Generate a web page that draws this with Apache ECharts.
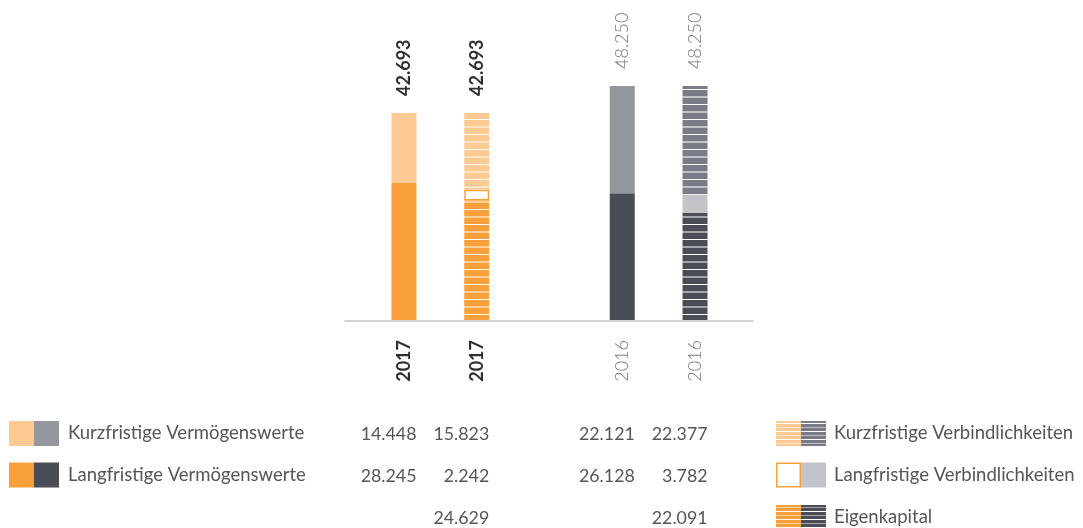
<!DOCTYPE html>
<html><head><meta charset="utf-8">
<script src="https://cdn.jsdelivr.net/npm/echarts@6/dist/echarts.min.js"></script>
<style>html,body{margin:0;padding:0;background:#fff}#c{width:1083px;height:528px}</style>
</head><body><div id="c"></div>
<script>
// ---- data ----
const years = ['2017', '2016'];
const categories = ['2017', '2017', '', '2016', '2016'];
const kurzfristigeVermoegenswerte = [14448, 22121];
const langfristigeVermoegenswerte = [28245, 26128];
const kurzfristigeVerbindlichkeiten = [15823, 22377];
const langfristigeVerbindlichkeiten = [2242, 3782];
const eigenkapital = [24629, 22091];
const bilanzsumme = [42693, 48250];
const legendLeft = ['Kurzfristige Vermögenswerte', 'Langfristige Vermögenswerte'];
const legendRight = ['Kurzfristige Verbindlichkeiten', 'Langfristige Verbindlichkeiten', 'Eigenkapital'];

// ---- styles ----
const C = {
  orangeLight: '#fdca93', orange: '#f9a03a', gray: '#95979f', dark: '#4a4d56',
  lightGray: '#c3c4c9', stripeGray: '#797b87', text: '#555558'
};
const FONT = 'Lato, "Open Sans", sans-serif';
const assetIdx = [0, 3], liabIdx = [1, 4];

function stripe(base, light, big) {
  const c = document.createElement('canvas');
  const h = big ? 15 : 8;
  c.width = 4; c.height = h;
  const g = c.getContext('2d');
  g.fillStyle = base; g.fillRect(0, 0, 4, h);
  if (big) {
    g.fillStyle = light; g.fillRect(0, 6, 4, 2);
    g.fillStyle = '#ffffff'; g.fillRect(0, 14, 4, 1);
  } else {
    g.fillStyle = light; g.fillRect(0, 3, 4, 1);
    g.fillStyle = '#ffffff'; g.fillRect(0, 7, 4, 1);
  }
  return { image: c, repeat: 'repeat' };
}
const P = {
  kvbO: stripe(C.orangeLight, '#fee3c4', true),
  kvbG: stripe(C.stripeGray, '#c0c1c7', true),
  ekO: stripe(C.orange, '#fcd09c', true),
  ekD: stripe(C.dark, '#a3a5ab', true),
  kvbOs: stripe(C.orangeLight, '#fee3c4', false),
  kvbGs: stripe(C.stripeGray, '#c0c1c7', false),
  ekOs: stripe(C.orange, '#fcd09c', false),
  ekDs: stripe(C.dark, '#a3a5ab', false)
};

const fmt = n => String(n).replace(/\B(?=(\d{3})+(?!\d))/g, '.');
const labelStyle = y => y === 0
  ? { fontWeight: 'bold', color: '#2f2f33', fontSize: 18, fontFamily: FONT }
  : { fontWeight: 300, color: '#78787c', fontSize: 18, fontFamily: FONT };

function build(values, idxs, styles, withTotal) {
  const d = categories.map(() => '-');
  values.forEach((v, y) => {
    const item = { value: v, itemStyle: styles[y] };
    if (withTotal) {
      item.label = Object.assign({
        show: true, position: 'top', rotate: 90, align: 'left', verticalAlign: 'middle',
        distance: 17, formatter: () => fmt(bilanzsumme[y])
      }, labelStyle(y));
    }
    d[idxs[y]] = item;
  });
  return d;
}

const base = { type: 'bar', stack: 'a', barWidth: 25, xAxisIndex: 0, yAxisIndex: 0, silent: true };
const series = [
  Object.assign({ name: 'Langfristige Vermögenswerte', data: build(langfristigeVermoegenswerte, assetIdx, [{ color: C.orange }, { color: C.dark }]) }, base),
  Object.assign({ name: 'Kurzfristige Vermögenswerte', data: build(kurzfristigeVermoegenswerte, assetIdx, [{ color: C.orangeLight }, { color: C.gray }], true) }, base),
  Object.assign({ name: 'Eigenkapital', data: build(eigenkapital, liabIdx, [{ color: P.ekO }, { color: P.ekD }]) }, base),
  Object.assign({ name: 'Langfristige Verbindlichkeiten', data: build(langfristigeVerbindlichkeiten, liabIdx, [{ color: '#ffffff', borderColor: C.orange, borderWidth: 1.5 }, { color: C.lightGray }]) }, base),
  Object.assign({ name: 'Kurzfristige Verbindlichkeiten', data: build(kurzfristigeVerbindlichkeiten, liabIdx, [{ color: P.kvbO }, { color: P.kvbG }], true) }, base)
];

const chart = echarts.init(document.getElementById('c'), null, { renderer: 'canvas' });
chart.setOption({
  animation: false,
  grid: [
    { left: 367.6, right: 351.6, top: 29, bottom: 208 },
    { left: 345, right: 330, top: 29, bottom: 207 }
  ],
  xAxis: [
    {
      type: 'category', data: categories, gridIndex: 0,
      axisLine: { show: false }, axisTick: { show: false },
      axisLabel: {
        rotate: 90, margin: 20, interval: 0,
        formatter: (v, i) => i < 2 ? '{b|' + v + '}' : '{l|' + v + '}',
        rich: {
          b: { fontWeight: 'bold', color: '#2f2f33', fontSize: 18, fontFamily: FONT },
          l: { fontWeight: 300, color: '#78787c', fontSize: 18, fontFamily: FONT }
        }
      }
    },
    {
      type: 'category', data: [''], gridIndex: 1, z: 10,
      axisLine: { show: true, lineStyle: { color: '#d3d3d7', width: 2 } },
      axisTick: { show: false }, axisLabel: { show: false }
    }
  ],
  yAxis: [
    { type: 'value', min: 0, max: 60000, gridIndex: 0, show: false },
    { type: 'value', min: 0, max: 1, gridIndex: 1, show: false }
  ],
  series: series
});

// ---- legend + table (text from data) ----
const cx = i => chart.convertToPixel({ xAxisIndex: 0 }, i);
const rowY = [433.5, 475, 517.5];
const g = [];
const txt = (x, y, s, align, size) => ({
  type: 'text', x: x, y: y, silent: true,
  style: { text: s, fill: C.text, font: (size || 18.5) + 'px ' + FONT, align: align || 'left', verticalAlign: 'middle' }
});
const sw = (x, y, fill) => ({
  type: 'rect', shape: { x: x, y: y - 12.5, width: 25, height: 25 }, silent: true,
  style: { fill: fill }
});
// left legend
g.push(sw(9, rowY[0], C.orangeLight), sw(34, rowY[0], C.gray), txt(68, rowY[0], legendLeft[0]));
g.push(sw(9, rowY[1], C.orange), sw(34, rowY[1], C.dark), txt(68, rowY[1], legendLeft[1]));
// right legend
g.push(sw(776, rowY[0], P.kvbOs), sw(801, rowY[0], P.kvbGs), txt(834, rowY[0], legendRight[0]));
g.push({ type: 'rect', shape: { x: 776.75, y: rowY[1] - 11.75, width: 23.5, height: 23.5 }, silent: true, style: { fill: '#fff', stroke: C.orange, lineWidth: 1.5 } });
g.push(sw(801, rowY[1], C.lightGray), txt(834, rowY[1], legendRight[1]));
g.push(sw(776, rowY[2], P.ekOs), sw(801, rowY[2], P.ekDs), txt(834, rowY[2], legendRight[2]));
// table numbers
const rows = [
  [[kurzfristigeVermoegenswerte, assetIdx], [kurzfristigeVerbindlichkeiten, liabIdx]],
  [[langfristigeVermoegenswerte, assetIdx], [langfristigeVerbindlichkeiten, liabIdx]],
  [[eigenkapital, liabIdx]]
];
rows.forEach((r, ri) => {
  r.forEach(([arr, idxs]) => {
    arr.forEach((v, y) => g.push(txt(cx(idxs[y]) + 12.5, rowY[ri] + 1, fmt(v), 'right', 17.8)));
  });
});
chart.setOption({ graphic: g });
</script>
</body></html>
